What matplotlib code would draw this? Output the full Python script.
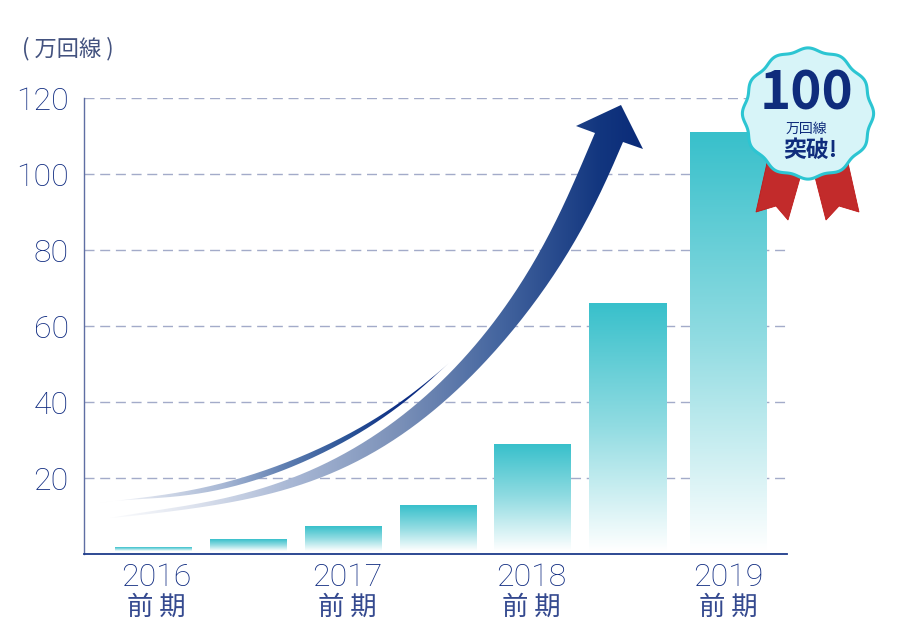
import numpy as np
import matplotlib
matplotlib.use("Agg")
import matplotlib.pyplot as plt
from matplotlib.colors import LinearSegmentedColormap, to_rgb
from matplotlib.patches import PathPatch, Polygon
from matplotlib.path import Path

categories = ["2016前期", "2016後期", "2017前期", "2017後期", "2018前期", "2018後期", "2019前期"]
values = [1.8, 4.0, 7.4, 12.8, 29.0, 66.0, 111.0]
positions = [0, 1, 2, 3, 3.99, 4.99, 6.05]
y_ticks = [20, 40, 60, 80, 100, 120]
year_labels = ["2016", "2017", "2018", "2019"]
unit_label = "( 万回線 )"
period_label = "前 期"
badge_lines = ["100", "万回線", "突破!"]

NAVY = "#0e2a80"
W, H = 900, 637
CJK = ["Noto Sans CJK JP", "DejaVu Sans"]
DIGIT = "Roboto"

fig = plt.figure(figsize=(W / 100, H / 100), dpi=100, facecolor="white")
ax = fig.add_axes([84 / W, (H - 554) / H, (787 - 84) / W, (554 - 98) / H])
ax.set_xlim((84 - 153.5) / 95, (787 - 153.5) / 95)
ax.set_ylim(0, 120)
ax.set_yticks(y_ticks)
ax.set_xticks([])
ax.tick_params(axis="y", length=0, pad=11, labelsize=23, labelcolor=NAVY)
for lab in ax.get_yticklabels():
    lab.set_fontfamily(DIGIT)
    lab.set_fontweight("light")
for s in ("top", "right"):
    ax.spines[s].set_visible(False)
ax.spines["left"].set_color("#5f6ea3")
ax.spines["left"].set_linewidth(1.0)
ax.spines["bottom"].set_color("#1c3a8a")
ax.spines["bottom"].set_linewidth(1.3)
ax.set_axisbelow(True)
ax.yaxis.grid(True, color="#a3abc9", lw=1.0, ls=(0, (7.2, 4.1)))

# gradient bars
bar_cmap = LinearSegmentedColormap.from_list("bar", ["#38c0cb", "#92dce2", "#ffffff"])
width = 77 / 95
bars = ax.bar(positions, values, width=width, color="none", linewidth=0)
grad = np.linspace(0, 1, 256).reshape(-1, 1)
for b in bars:
    x0, h = b.get_x(), b.get_height()
    # gradient fades out just above the baseline
    ax.imshow(grad, cmap=bar_cmap, extent=(x0, x0 + width, 0.9, h), origin="upper",
              aspect="auto", zorder=2, interpolation="bilinear")
ax.set_xlim((84 - 153.5) / 95, (787 - 153.5) / 95)
ax.set_ylim(0, 120)

# overlay in image pixel coordinates for illustration elements
ov = fig.add_axes([0, 0, 1, 1], facecolor="none")
ov.set_xlim(0, W)
ov.set_ylim(H, 0)
ov.axis("off")


def smooth(pts, deg=7, n=200):
    """Smooth parametric curve through the traced outline points."""
    p = np.array(pts, float)
    s = np.r_[0, np.cumsum(np.hypot(*np.diff(p, axis=0).T))]
    s /= s[-1]
    w = np.ones(len(p))
    w[0] = w[-1] = 30
    t = np.linspace(0, 1, n)
    return np.column_stack([np.polyval(np.polyfit(s, p[:, k], deg, w=w), t) for k in (0, 1)])


def gradient_fill(outline, xs, colors, alphas):
    x0, x1 = xs[0], xs[-1]
    t = np.linspace(x0, x1, 512)
    rgba = np.zeros((1, 512, 4))
    cols = np.array([to_rgb(c) for c in colors])
    for k in range(3):
        rgba[0, :, k] = np.interp(t, xs, cols[:, k])
    rgba[0, :, 3] = np.interp(t, xs, alphas)
    y0, y1 = outline[:, 1].min(), outline[:, 1].max()
    im = ov.imshow(rgba, extent=(x0, x1, y1, y0), aspect="auto", zorder=5, interpolation="bilinear")
    patch = PathPatch(Path(outline), transform=ov.transData, fc="none", ec="none")
    ov.add_patch(patch)
    im.set_clip_path(patch)


# main arrow body
upper = smooth([(110, 518), (190, 505), (257, 490), (285, 480), (347, 453), (400, 416), (447, 377),
                (490, 326), (530, 270), (540, 250), (578, 173), (595, 133)])
lower = smooth([(110, 518), (190, 509), (257, 497), (285, 488.5), (347, 468), (407, 430), (443, 402),
                (480, 367), (517, 326), (558, 270), (568, 250), (610, 173), (623, 142)])
head = np.array([(576, 126), (621, 105), (643, 149)], float)
outline = np.vstack([upper, head, lower[::-1]])
outline = np.vstack([outline, outline[0]])
gradient_fill(outline, [110, 190, 290, 400, 500, 600, 645],
              ["#e6eaf3", "#dfe4ef", "#a9b8d5", "#7a90b8", "#44659f", "#12367f", "#0a2a78"],
              [0.2, 1, 1, 1, 1, 1, 1])

# crescent above arrow
c_up = smooth([(100, 503), (157, 495.7), (223, 483), (287, 462), (347, 435), (400, 402), (433, 377), (449, 363)], deg=6)
c_lo = smooth([(100, 503), (157, 498), (223, 489), (287, 468.5), (347, 440.5), (400, 405), (433, 378), (449, 363)], deg=6)
cres = np.vstack([c_up, c_lo[::-1]])
gradient_fill(cres, [100, 157, 223, 287, 347, 400, 433, 449],
              ["#e6eaf3", "#d5dcea", "#a8b8d5", "#5d7db0", "#2c5598", "#0d2f85", "#0a2a80", "#c0c8dd"],
              [0.3, 1, 1, 1, 1, 1, 1, 1])

# ribbons
for pts in ([(767, 163), (800, 178), (788, 220), (776, 206), (756, 212)],
            [(815, 177), (848, 163), (859, 212), (839, 206), (826, 220)]):
    ov.add_patch(Polygon(pts, closed=True, fc="#c22b2b", ec="#c01818", lw=0.6, zorder=6))

# badge
theta = np.linspace(0, 2 * np.pi, 720)
r = 64 + 1.6 * np.cos(12 * (theta - np.pi / 2))
ov.fill(808 + r * np.cos(theta), 113.5 + r * np.sin(theta), fc="#d7f4f8", ec="#2cc5d2", lw=2.2, zorder=7)

ov.text(807, 94, badge_lines[0], family=CJK, weight="bold", fontsize=38, color="#0f2c7c",
        ha="center", va="center", zorder=8)
ov.text(806, 129, badge_lines[1], family=CJK, fontsize=10, color="#0f2c7c", ha="center", va="center", zorder=8)
ov.text(810, 150.5, badge_lines[2], family=CJK, weight="bold", fontsize=16.5, color="#0f2c7c",
        ha="center", va="center", zorder=8)

# text labels
ov.text(68, 49, unit_label, family=CJK, fontsize=16, color="#43527f", ha="center", va="center", zorder=8)
for label, xc in zip(year_labels, [156, 347, 531, 728]):
    ov.text(xc, 577.5, label, family=DIGIT, weight="light", fontsize=23, color=NAVY, ha="center", va="center", zorder=8)
    ov.text(xc, 607, period_label, family=CJK, fontsize=19, color="#34498f", ha="center", va="center", zorder=8)

fig.savefig("out.png", dpi=100)
